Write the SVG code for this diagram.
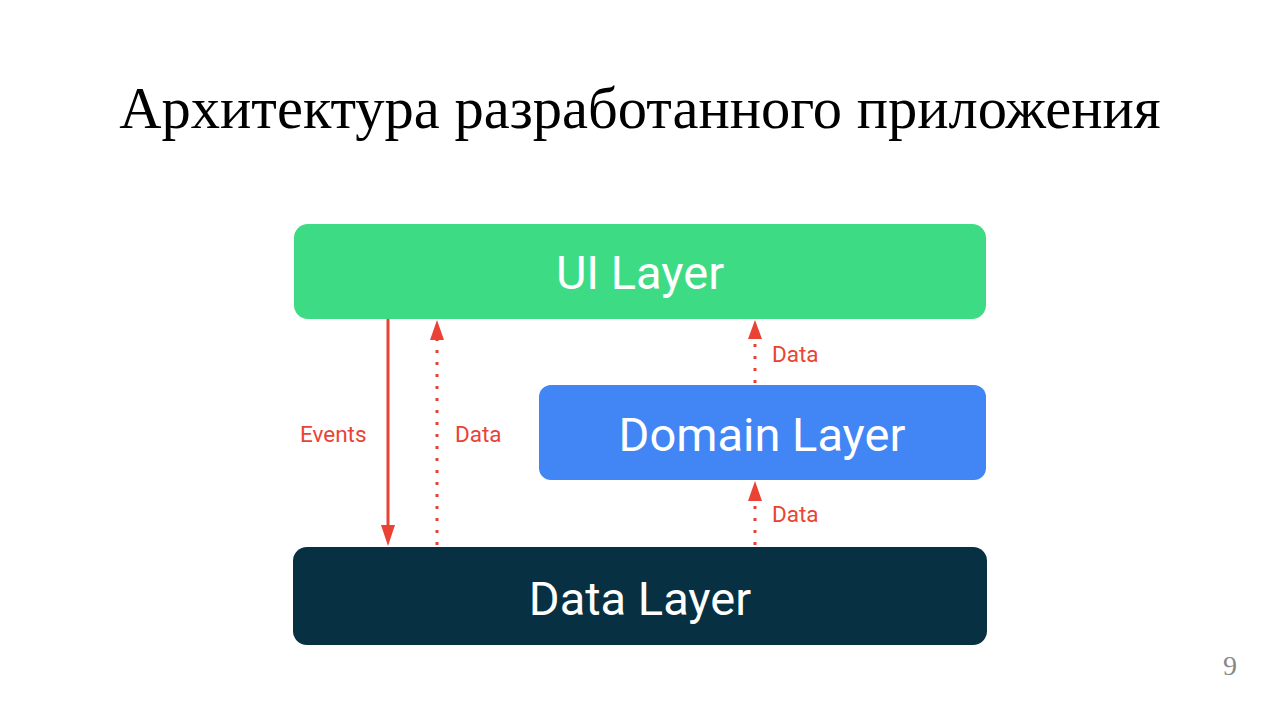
<svg xmlns="http://www.w3.org/2000/svg" width="1280" height="720" viewBox="0 0 1280 720">
<defs>
<style>
.title{font-family:"Liberation Serif","Times New Roman",serif;font-size:58.5px;fill:#000}
.box{font-family:Roboto,"Open Sans",sans-serif;font-size:47px;fill:#fff;text-anchor:middle}
.lbl{font-family:Roboto,"Open Sans",sans-serif;font-size:22.5px;fill:#EA4335}
.solid{stroke:#EA4335;stroke-width:3;fill:none}
.dot{stroke:#EA4335;stroke-width:3;fill:none;stroke-dasharray:3 9}
.head{fill:#EA4335}
</style>
</defs>
<rect width="1280" height="720" fill="#fff"/>
<text class="title" x="640" y="128" text-anchor="middle">Архитектура разработанного приложения</text>
<g id="ui-layer">
<rect x="294" y="224" width="692" height="95" rx="14" fill="#3DDC84"/>
<text class="box" x="640" y="289">UI Layer</text>
</g>
<g id="domain-layer">
<rect x="539" y="385" width="447" height="95" rx="12" fill="#4285F4"/>
<text class="box" x="762" y="451">Domain Layer</text>
</g>
<g id="data-layer">
<rect x="293" y="547" width="694" height="98" rx="14" fill="#073042"/>
<text class="box" x="640" y="615">Data Layer</text>
</g>
<g id="connectors">
<line class="solid" x1="388" y1="319" x2="388" y2="527"/>
<polygon class="head" points="381,525 395,525 388,546"/>
<line class="dot" x1="437" y1="545" x2="437" y2="340"/>
<polygon class="head" points="430,340 444,340 437,320"/>
<line class="dot" x1="755" y1="383" x2="755" y2="340"/>
<polygon class="head" points="748,339 762,339 755,320"/>
<line class="dot" x1="755" y1="545" x2="755" y2="500"/>
<polygon class="head" points="748,501 762,501 755,481"/>
<text class="lbl" x="300" y="442">Events</text>
<text class="lbl" x="455" y="442">Data</text>
<text class="lbl" x="772" y="362">Data</text>
<text class="lbl" x="772" y="522">Data</text>
</g>
<text x="1230" y="675" font-family="Liberation Serif,serif" font-size="28" fill="#888" text-anchor="middle">9</text>
</svg>
